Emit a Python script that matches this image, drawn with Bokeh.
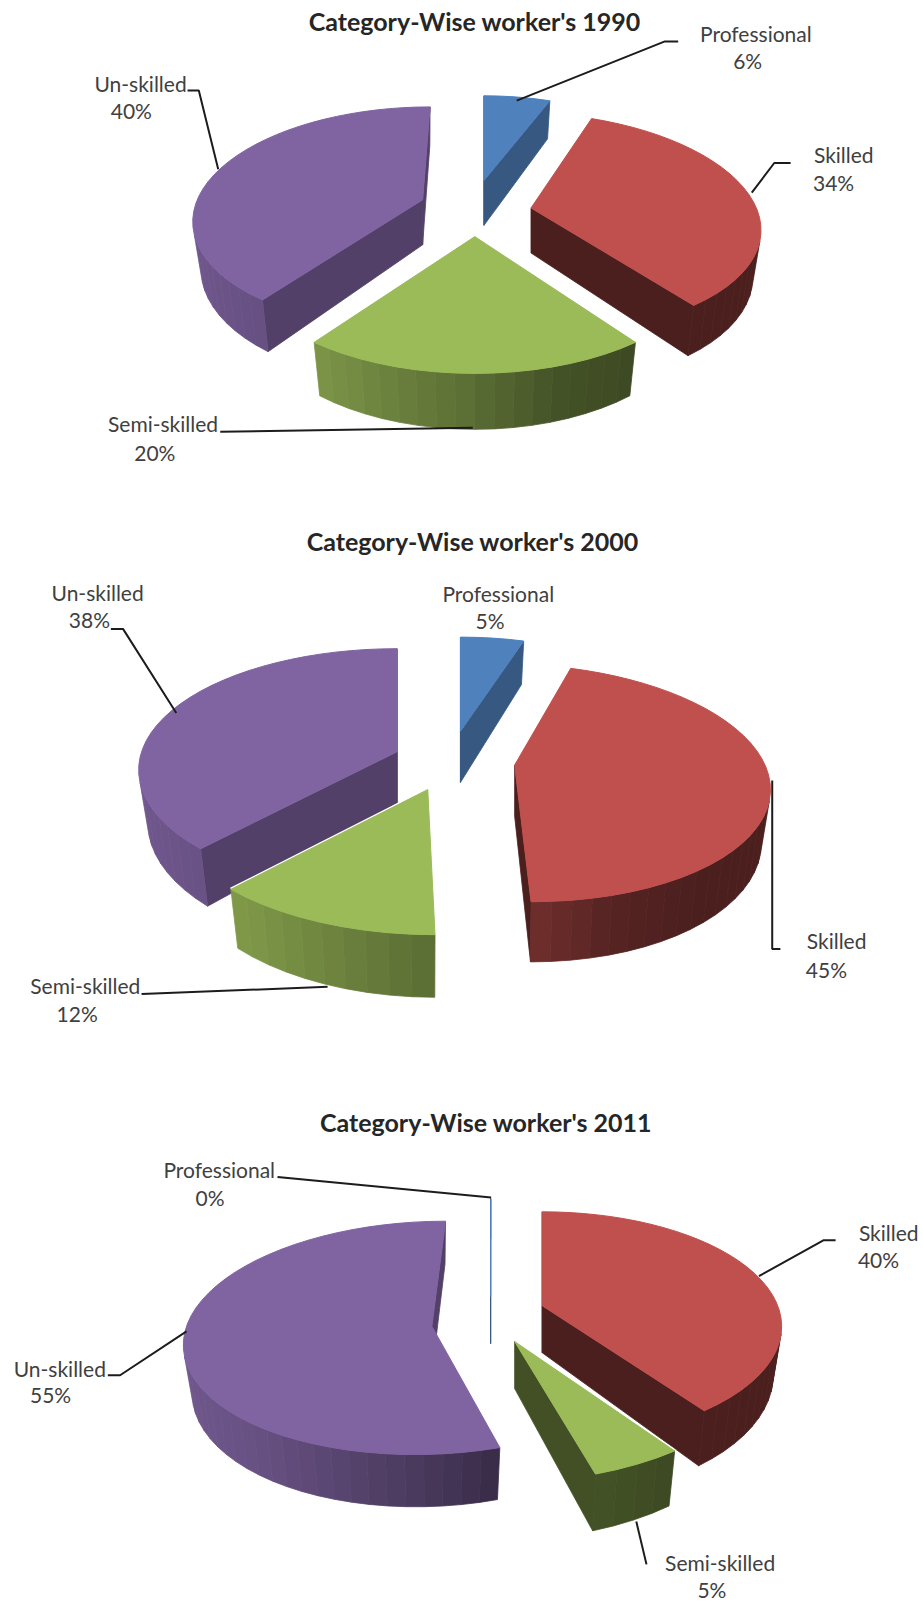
import numpy as np
from bokeh.core.properties import value
from bokeh.embed import file_html
from bokeh.models import ColumnDataSource, Range1d
from bokeh.plotting import figure
from bokeh.resources import INLINE

# Worker shares, in percent, listed clockwise from twelve o'clock
categories = ["Professional", "Skilled", "Semi-skilled", "Un-skilled"]
shares_1990 = [6, 34, 20, 40]
shares_2000 = [5, 45, 12, 38]
shares_2011 = [0, 40, 5, 55]

FONT = "Lato"
TEXT_COLOR = "#404040"
BASE = {"Professional": "#4f81bd", "Skilled": "#c0504d",
        "Semi-skilled": "#9bbb59", "Un-skilled": "#8064a2"}
CUT_FACE_SHADE = {"Professional": 0.68, "Skilled": 0.39,
                  "Semi-skilled": 0.43, "Un-skilled": 0.64}

# Page layout is expressed on a 903-wide canvas
CANVAS_W, CANVAS_H = 903.0, 1567.3

# Per-slice view settings, in category order:
#   explode - how far the slice is pulled out of the pie
#   persp   - foreshortening from front to back
#   shear   - sideways lean
#   scale   - overall size
PIES = [
    dict(title="Category-Wise worker's 1990", title_xy=(464, 20.5), shares=shares_1990,
         cx=467, cy=203, rx=225, ry=107.6, depth=44,
         explode=[(6, -27), (52, 0), (-3, 28), (-54, -8)],
         persp=[.196, .13, .196, .16], shear=[0, .15, 0, -.08], scale=[.92, .98, 1, .98],
         labels={"Professional": (739, 32, 731, 59), "Skilled": (825, 151, 815, 178),
                 "Un-skilled": (137, 81, 128, 108), "Semi-skilled": (159, 414, 151, 442)},
         leaders=[[(663, 40), (650, 40), (505, 98)], [(773, 159), (757, 159), (735, 188)],
                  [(183, 88), (194, 88), (213, 165)], [(215, 422), (462, 418)]]),
    dict(title="Category-Wise worker's 2000", title_xy=(462, 528.5), shares=shares_2000,
         cx=445, cy=745, rx=250, ry=116, depth=50,
         explode=[(5, -30), (58, 3), (-27, 27), (-57, -10)],
         persp=[.183, .15, .183, .15], shear=[0, .12, .05, 0], scale=[.94, .98, 1, 1],
         labels={"Professional": (487, 580, 479, 607), "Un-skilled": (95, 579, 87, 606),
                 "Skilled": (818, 920, 808, 948), "Semi-skilled": (83, 964, 75, 991)},
         leaders=[[(108, 615), (120, 615), (172, 697)], [(755, 763), (755, 928), (763, 928)],
                  [(138, 972), (320, 965)]]),
    dict(title="Category-Wise worker's 2011", title_xy=(475, 1097.5), shares=shares_2011,
         cx=477, cy=1288, rx=240, ry=113, depth=46,
         explode=[(2.5, -20), (53, -11), (26, 24), (-55, 9)],
         persp=[.18, .18, .18, .10], shear=[0, 0, -.08, -.13], scale=[1, .96, 1, 1],
         labels={"Professional": (214, 1144, 205, 1171), "Skilled": (869, 1205, 859, 1232),
                 "Un-skilled": (58, 1338, 49, 1364), "Semi-skilled": (704, 1528, 696, 1555)},
         leaders=[[(271, 1151), (480, 1171)], [(817, 1213), (805, 1213), (742, 1248)],
                  [(105, 1345), (117, 1345), (182, 1302)], [(632, 1530), (622, 1488)]]),
]


def shade(hex_color, factor):
    r, g, b = (int(hex_color[i:i + 2], 16) for i in (1, 3, 5))
    return "#%02x%02x%02x" % (round(r * factor), round(g * factor), round(b * factor))


def rim_shade(theta):
    # Light falls from the left: the outer wall darkens toward the right
    return float(np.interp(np.sin(theta), [-1, -.6, 0, .3, .6, 1],
                           [.88, .80, .58, .44, .39, .39]))


def project(pie, view, x, y, lower=False):
    """Perspective view of a disc point, measured from the slice's own apex."""
    apex, persp, shear, scale = view
    w = 1 + persp * y
    sx = scale * pie["rx"] * x / w
    sy = -scale * pie["ry"] * y / w
    sx += shear * sy
    if lower:
        return apex[0] + sx * 0.965, apex[1] + sy + pie["depth"] / w
    return apex[0] + sx, apex[1] + sy


def quad_area(pts):
    xs, ys = zip(*pts)
    return 0.5 * sum(xs[i] * ys[(i + 1) % 4] - xs[(i + 1) % 4] * ys[i] for i in range(4))


def slice_faces(pie, name, t0, t1, view):
    n = max(2, int(np.degrees(t1 - t0) / 4) + 1)
    thetas = np.linspace(t0, t1, n)
    outline = [(0.0, 0.0)] + [(np.sin(t), np.cos(t)) for t in thetas]
    base = BASE[name]
    walls = []
    # Clockwise walk round the outline; walls facing the viewer have negative area
    for i, (a, b) in enumerate(zip(outline, outline[1:] + outline[:1])):
        quad = [project(pie, view, *a), project(pie, view, *b),
                project(pie, view, *b, lower=True), project(pie, view, *a, lower=True)]
        if quad_area(quad) > 1e-6:
            continue
        radial = i == 0 or i == len(outline) - 1
        if radial:
            color = shade(base, CUT_FACE_SHADE[name])
            rank = 0
        else:
            color = shade(base, rim_shade((thetas[i - 1] + thetas[i]) / 2))
            rank = 1
        walls.append((rank, quad, color))
    walls.sort(key=lambda w: w[0])
    top = [project(pie, view, *pt) for pt in outline]
    return walls, top


p = figure(width=923, height=1602, output_backend="svg", toolbar_location=None,
           x_range=Range1d(0, CANVAS_W), y_range=Range1d(CANVAS_H, 0),
           min_border=0, background_fill_color="white", border_fill_color="white",
           outline_line_color=None)
p.axis.visible = False
p.grid.visible = False

for pie in PIES:
    edges = np.radians(np.concatenate([[0], np.cumsum(pie["shares"])]) * 3.6)
    spans = []
    for i, name in enumerate(categories):
        apex = (pie["cx"] + pie["explode"][i][0], pie["cy"] + pie["explode"][i][1])
        spans.append((name, edges[i], edges[i + 1], (apex, pie["persp"][i], pie["shear"][i], pie["scale"][i])))
    # Paint from the back of the pie to the front
    spans.sort(key=lambda s: -np.cos((s[1] + s[2]) / 2))
    for name, t0, t1, view in spans:
        walls, top = slice_faces(pie, name, t0, t1, view)
        if name == "Semi-skilled":
            # A thin white seam keeps this slice apart from its neighbours
            p.line([top[1][0], top[0][0], top[-1][0]], [top[1][1], top[0][1], top[-1][1]],
                   line_color="white", line_width=3.5)
        if walls:
            p.patches(xs=[[pt[0] for pt in q] for _, q, _ in walls],
                      ys=[[pt[1] for pt in q] for _, q, _ in walls],
                      fill_color=[c for _, _, c in walls], line_color=[c for _, _, c in walls],
                      line_width=0.8)
        p.patch([pt[0] for pt in top], [pt[1] for pt in top], fill_color=BASE[name],
                line_color=BASE[name], line_width=1)

    for path in pie["leaders"]:
        p.line([pt[0] for pt in path], [pt[1] for pt in path], line_color="#1c1c1c", line_width=2)

    names, pcts = [], []
    for i, name in enumerate(categories):
        nx, ny, vx, vy = pie["labels"][name]
        names.append((nx, ny, name))
        pcts.append((vx, vy, f"{pie['shares'][i]}%"))
    labels = ColumnDataSource(dict(x=[r[0] for r in names + pcts], y=[r[1] for r in names + pcts],
                                   t=[r[2] for r in names + pcts]))
    p.text("x", "y", text="t", source=labels, text_font=value(FONT), text_font_size="21px",
           text_align="center", text_baseline="middle", text_color=TEXT_COLOR)
    p.text([pie["title_xy"][0]], [pie["title_xy"][1]], text=[pie["title"]], text_font=value(FONT),
           text_font_size="25px", text_font_style="bold", text_align="center",
           text_baseline="middle", text_color="#262626")

open("out.html", "w").write(file_html(p, INLINE))
